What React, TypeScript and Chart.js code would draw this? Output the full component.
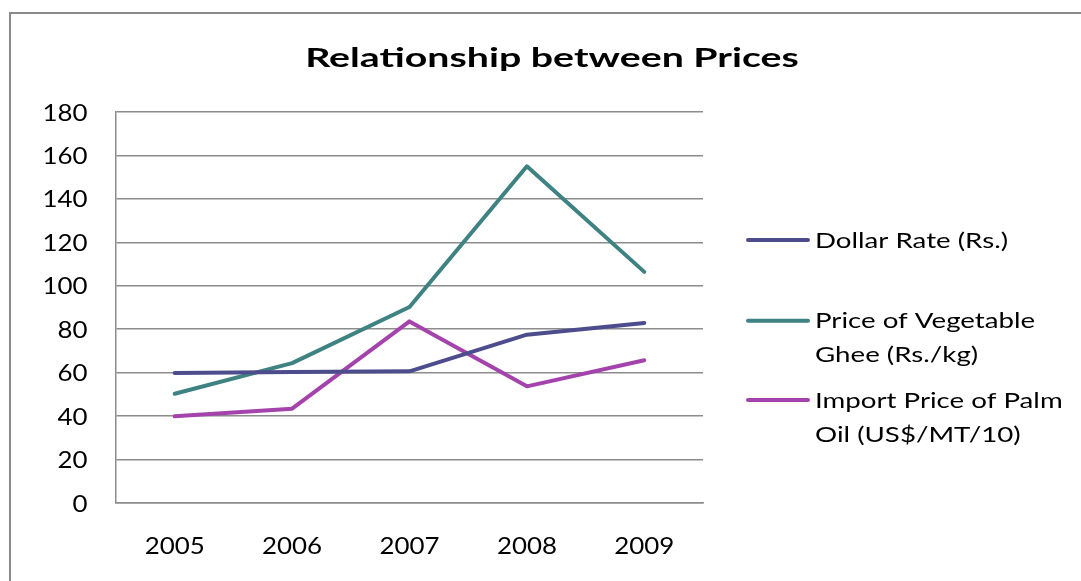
import React, { useEffect, useRef } from "react";
import { Chart, registerables } from "chart.js";

Chart.register(...registerables);

const years = ["2005", "2006", "2007", "2008", "2009"];
const dollarRate = [59.8, 60.3, 60.6, 77.5, 82.9];
const gheePrice = [50.3, 64.4, 90.2, 155.0, 106.4];
const palmOilPrice = [39.9, 43.4, 83.6, 53.7, 65.7];

const seriesLabelLines = [
  ["Dollar Rate (Rs.)"],
  ["Price of Vegetable", "Ghee (Rs./kg)"],
  ["Import Price of Palm", "Oil (US$/MT/10)"],
];
const seriesColors = ["#4d4d8e", "#3e8282", "#a343ab"];
const titleText = "Relationship between Prices";
const yTicks = { min: 0, max: 180, step: 20 };

const FONT = "Lato, 'Open Sans', sans-serif";
const STRETCH = 1.2;

function visibleWidth(ctx: CanvasRenderingContext2D, s: string) {
  const m = ctx.measureText(s);
  return m.actualBoundingBoxLeft + m.actualBoundingBoxRight;
}

function drawStretched(
  ctx: CanvasRenderingContext2D,
  text: string,
  x: number,
  y: number,
  align: CanvasTextAlign,
  sx: number
) {
  ctx.save();
  ctx.translate(x, y);
  ctx.scale(sx, 1);
  ctx.textAlign = align;
  ctx.textBaseline = "alphabetic";
  ctx.fillText(text, 0, 0);
  ctx.restore();
}

const customPlugin = {
  id: "customDecor",
  afterDraw(chart: any) {
    const ctx: CanvasRenderingContext2D = chart.ctx;
    ctx.save();
    ctx.fillStyle = "#000";

    // title
    ctx.font = `bold 26px ${FONT}`;
    const tsx = 490 / visibleWidth(ctx, titleText);
    drawStretched(ctx, titleText, 552, 66.5, "center", tsx);

    // y tick labels
    const ys = chart.scales.y;
    ctx.font = `23px ${FONT}`;
    const ysx = 43.5 / visibleWidth(ctx, "180");
    ys.ticks.forEach((t: any) => {
      const py = ys.getPixelForValue(t.value);
      drawStretched(ctx, String(t.value), 87.5, py + 8.5, "right", ysx);
    });

    // x tick labels
    const xs = chart.scales.x;
    chart.data.labels.forEach((lab: string, i: number) => {
      const px = xs.getPixelForValue(i);
      drawStretched(ctx, lab, px, 554, "center", ysx);
    });

    // legend
    const x0 = 748;
    const lineLen = 60;
    const itemYs = [240, 320.7, 400];
    ctx.font = `21px ${FONT}`;
    const lsx = 191 / visibleWidth(ctx, seriesLabelLines[0][0]);
    chart.data.datasets.forEach((ds: any, i: number) => {
      const y = itemYs[i];
      ctx.strokeStyle = ds.borderColor;
      ctx.lineWidth = 4;
      ctx.lineCap = "round";
      ctx.beginPath();
      ctx.moveTo(x0, y);
      ctx.lineTo(x0 + lineLen, y);
      ctx.stroke();
      seriesLabelLines[i].forEach((ln, j) => {
        ctx.fillStyle = "#000";
        drawStretched(ctx, ln, 815, y + 7.7 + j * 34, "left", lsx);
      });
    });
    ctx.restore();
  },
};

function App() {
  const ref = useRef<HTMLCanvasElement>(null);
  useEffect(() => {
    if (!ref.current) return;
    const chart = new Chart(ref.current, {
      type: "line",
      data: {
        labels: years,
        datasets: [dollarRate, gheePrice, palmOilPrice].map((d, i) => ({
          label: seriesLabelLines[i].join(" "),
          data: d,
          borderColor: seriesColors[i],
          backgroundColor: seriesColors[i],
          borderWidth: 4,
          pointRadius: 0,
          tension: 0,
          borderCapStyle: "round" as const,
          borderJoinStyle: "round" as const,
        })),
      },
      options: {
        animation: false,
        responsive: false,
        maintainAspectRatio: false,
        layout: { padding: { left: 0, top: 112, right: 378, bottom: 0 } },
        plugins: {
          legend: { display: false },
          title: { display: false },
          tooltip: { enabled: false },
        },
        scales: {
          x: {
            offset: true,
            grid: { display: false, drawTicks: false },
            border: { display: true, color: "#8c8c8c", width: 1.5 },
            ticks: { display: false },
            afterFit: (s: any) => {
              s.height = 78;
            },
          },
          y: {
            min: yTicks.min,
            max: yTicks.max,
            grid: { color: "#8c8c8c", lineWidth: 1.5, drawTicks: false },
            border: { display: true, color: "#8c8c8c", width: 1.5 },
            ticks: { stepSize: yTicks.step, display: false },
            afterFit: (s: any) => {
              s.width = 116;
            },
          },
        },
      },
      plugins: [customPlugin],
    });
    return () => chart.destroy();
  }, []);
  return (
    <div
      style={{
        position: "fixed",
        left: 0,
        top: 0,
        width: 1081,
        height: 581,
        background: "#fff",
        overflow: "hidden",
      }}
    >
      <div
        style={{
          position: "absolute",
          left: 9,
          top: 12,
          width: 1100,
          height: 620,
          border: "2px solid #8a8a8a",
          boxSizing: "border-box",
        }}
      />
      <canvas
        ref={ref}
        width={1081}
        height={581}
        style={{ position: "absolute", left: 0, top: 0, width: 1081, height: 581 }}
      />
    </div>
  );
}

export default App;
